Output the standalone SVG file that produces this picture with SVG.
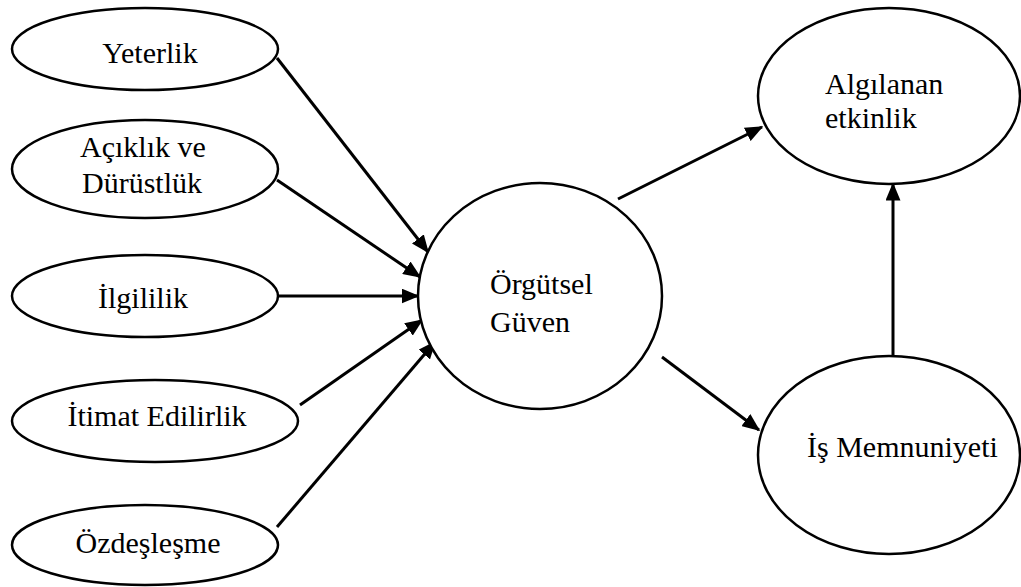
<svg xmlns="http://www.w3.org/2000/svg" width="1021" height="587" viewBox="0 0 1021 587">
<style>
.n{fill:#fff;stroke:#000;stroke-width:2.5}
.t{font-family:"Liberation Serif","Times New Roman","DejaVu Serif",serif;font-size:30px;fill:#000}
.c{stroke:#000;stroke-width:3;fill:none;marker-end:url(#ah)}
</style>
<defs>
<marker id="ah" markerWidth="6" markerHeight="5" refX="5.5" refY="2.5" orient="auto" markerUnits="strokeWidth">
<path d="M0,0 L6,2.5 L0,5 Z" fill="#000"/>
</marker>
</defs>
<rect width="1021" height="587" fill="#fff"/>
<g id="connectors">
<line class="c" x1="277" y1="58" x2="428" y2="252"/>
<line class="c" x1="277" y1="180" x2="420" y2="277"/>
<line class="c" x1="278" y1="296" x2="418" y2="296"/>
<line class="c" x1="300" y1="405" x2="422" y2="320"/>
<line class="c" x1="277" y1="527" x2="435" y2="342"/>
<line class="c" x1="618" y1="199" x2="762" y2="127"/>
<line class="c" x1="662" y1="357" x2="759" y2="430"/>
<line class="c" x1="893" y1="356" x2="893" y2="184"/>
</g>
<g id="yeterlik"><ellipse class="n" cx="145" cy="49" rx="133" ry="41"/><text class="t" x="150" y="63" text-anchor="middle">Yeterlik</text></g>
<g id="aciklik"><ellipse class="n" cx="145" cy="169" rx="133" ry="49"/><text class="t" x="80" y="157">Açıklık ve</text><text class="t" x="82" y="193">Dürüstlük</text></g>
<g id="ilgililik"><ellipse class="n" cx="145" cy="296" rx="133" ry="41"/><text class="t" x="143" y="308" text-anchor="middle">İlgililik</text></g>
<g id="itimat"><ellipse class="n" cx="155" cy="421" rx="143" ry="41"/><text class="t" x="157" y="426" text-anchor="middle">İtimat Edilirlik</text></g>
<g id="ozdeslesme"><ellipse class="n" cx="145" cy="545" rx="133" ry="40"/><text class="t" x="148" y="553" text-anchor="middle">Özdeşleşme</text></g>
<g id="orgutsel"><ellipse class="n" cx="540" cy="296" rx="122" ry="113"/><text class="t" x="490" y="294">Örgütsel</text><text class="t" x="490" y="332">Güven</text></g>
<g id="algilanan"><ellipse class="n" cx="889" cy="96" rx="131" ry="88"/><text class="t" x="825" y="94">Algılanan</text><text class="t" x="825" y="128">etkinlik</text></g>
<g id="is"><ellipse class="n" cx="889" cy="455" rx="131" ry="99"/><text class="t" x="807" y="457">İş Memnuniyeti</text></g>
</svg>
